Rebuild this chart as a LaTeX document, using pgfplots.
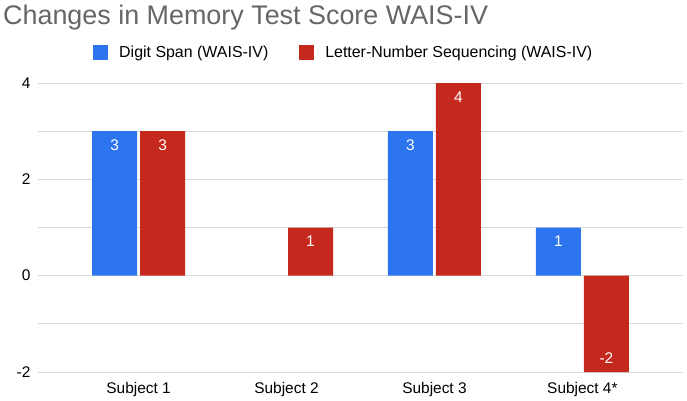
\documentclass[border=0pt]{standalone}
\usepackage{pgfplots}
\pgfplotsset{compat=1.18}
\usepackage{fontspec}
\setmainfont{Liberation Sans}
\definecolor{gblue}{HTML}{2D74EF}
\definecolor{gred}{HTML}{C5281C}
\definecolor{tgray}{HTML}{666666}
\begin{document}
\begin{tikzpicture}
\useasboundingbox (0,0) rectangle (687bp,401bp);
\begin{axis}[
 at={(38bp,29bp)}, anchor=south west,
 scale only axis, width=645bp, height=289bp,
 ybar, bar width=45bp,
 xmin=-0.68, xmax=3.68, ymin=-2, ymax=4,
 xtick={0,1,2,3}, xticklabels={Subject 1,Subject 2,Subject 3,Subject 4*},
 ytick={-2,0,2,4}, minor ytick={-1,1,3},
 ymajorgrids, yminorgrids,
 major grid style={draw=black!15, line width=0.8bp},
 minor grid style={draw=black!15, line width=0.8bp},
 axis line style={draw=none},
 major tick style={draw=none}, minor tick style={draw=none},
 /pgf/number format/assume math mode=true,
 tick label style={font=\fontsize{15.5}{17}\selectfont, text=black},
 yticklabel style={xshift=-4bp},
 xticklabel style={yshift=-3bp},
 extra y ticks={0}, extra y tick labels={},
 extra y tick style={grid style={draw=black!80, line width=1.2bp}},
 clip=false,
 legend style={at={(0.474,1.107)}, anchor=center, draw=none, fill=none, legend columns=2, font=\fontsize{16}{18}\selectfont,
   /tikz/every odd column/.append style={column sep=9bp},
   /tikz/every even column/.append style={column sep=29bp}},
 legend image code/.code={\fill[#1] (0bp,-7.5bp) rectangle (15bp,7.5bp);},
 nodes near coords,
 visualization depends on={rawy \as \rawy},
 every node near coord/.append style={font=\fontsize{15.5}{17}\selectfont, text=white, anchor=center, yshift={ifthenelse(\rawy<0,14,-14)}},
]
\addplot[fill=gblue, draw=none, bar shift=-24bp] coordinates {(0,3) (2,3) (3,1)};
\addplot[fill=gred, draw=none, bar shift=24bp] coordinates {(0,3) (1,1) (2,4) (3,-2)};
\legend{Digit Span (WAIS-IV), Letter-Number Sequencing (WAIS-IV)}
\end{axis}
\node[anchor=base west, text=tgray, font=\fontsize{27}{30}\selectfont, inner sep=0] at (3bp,376bp) {Changes in Memory Test Score WAIS-IV};
\end{tikzpicture}
\end{document}
